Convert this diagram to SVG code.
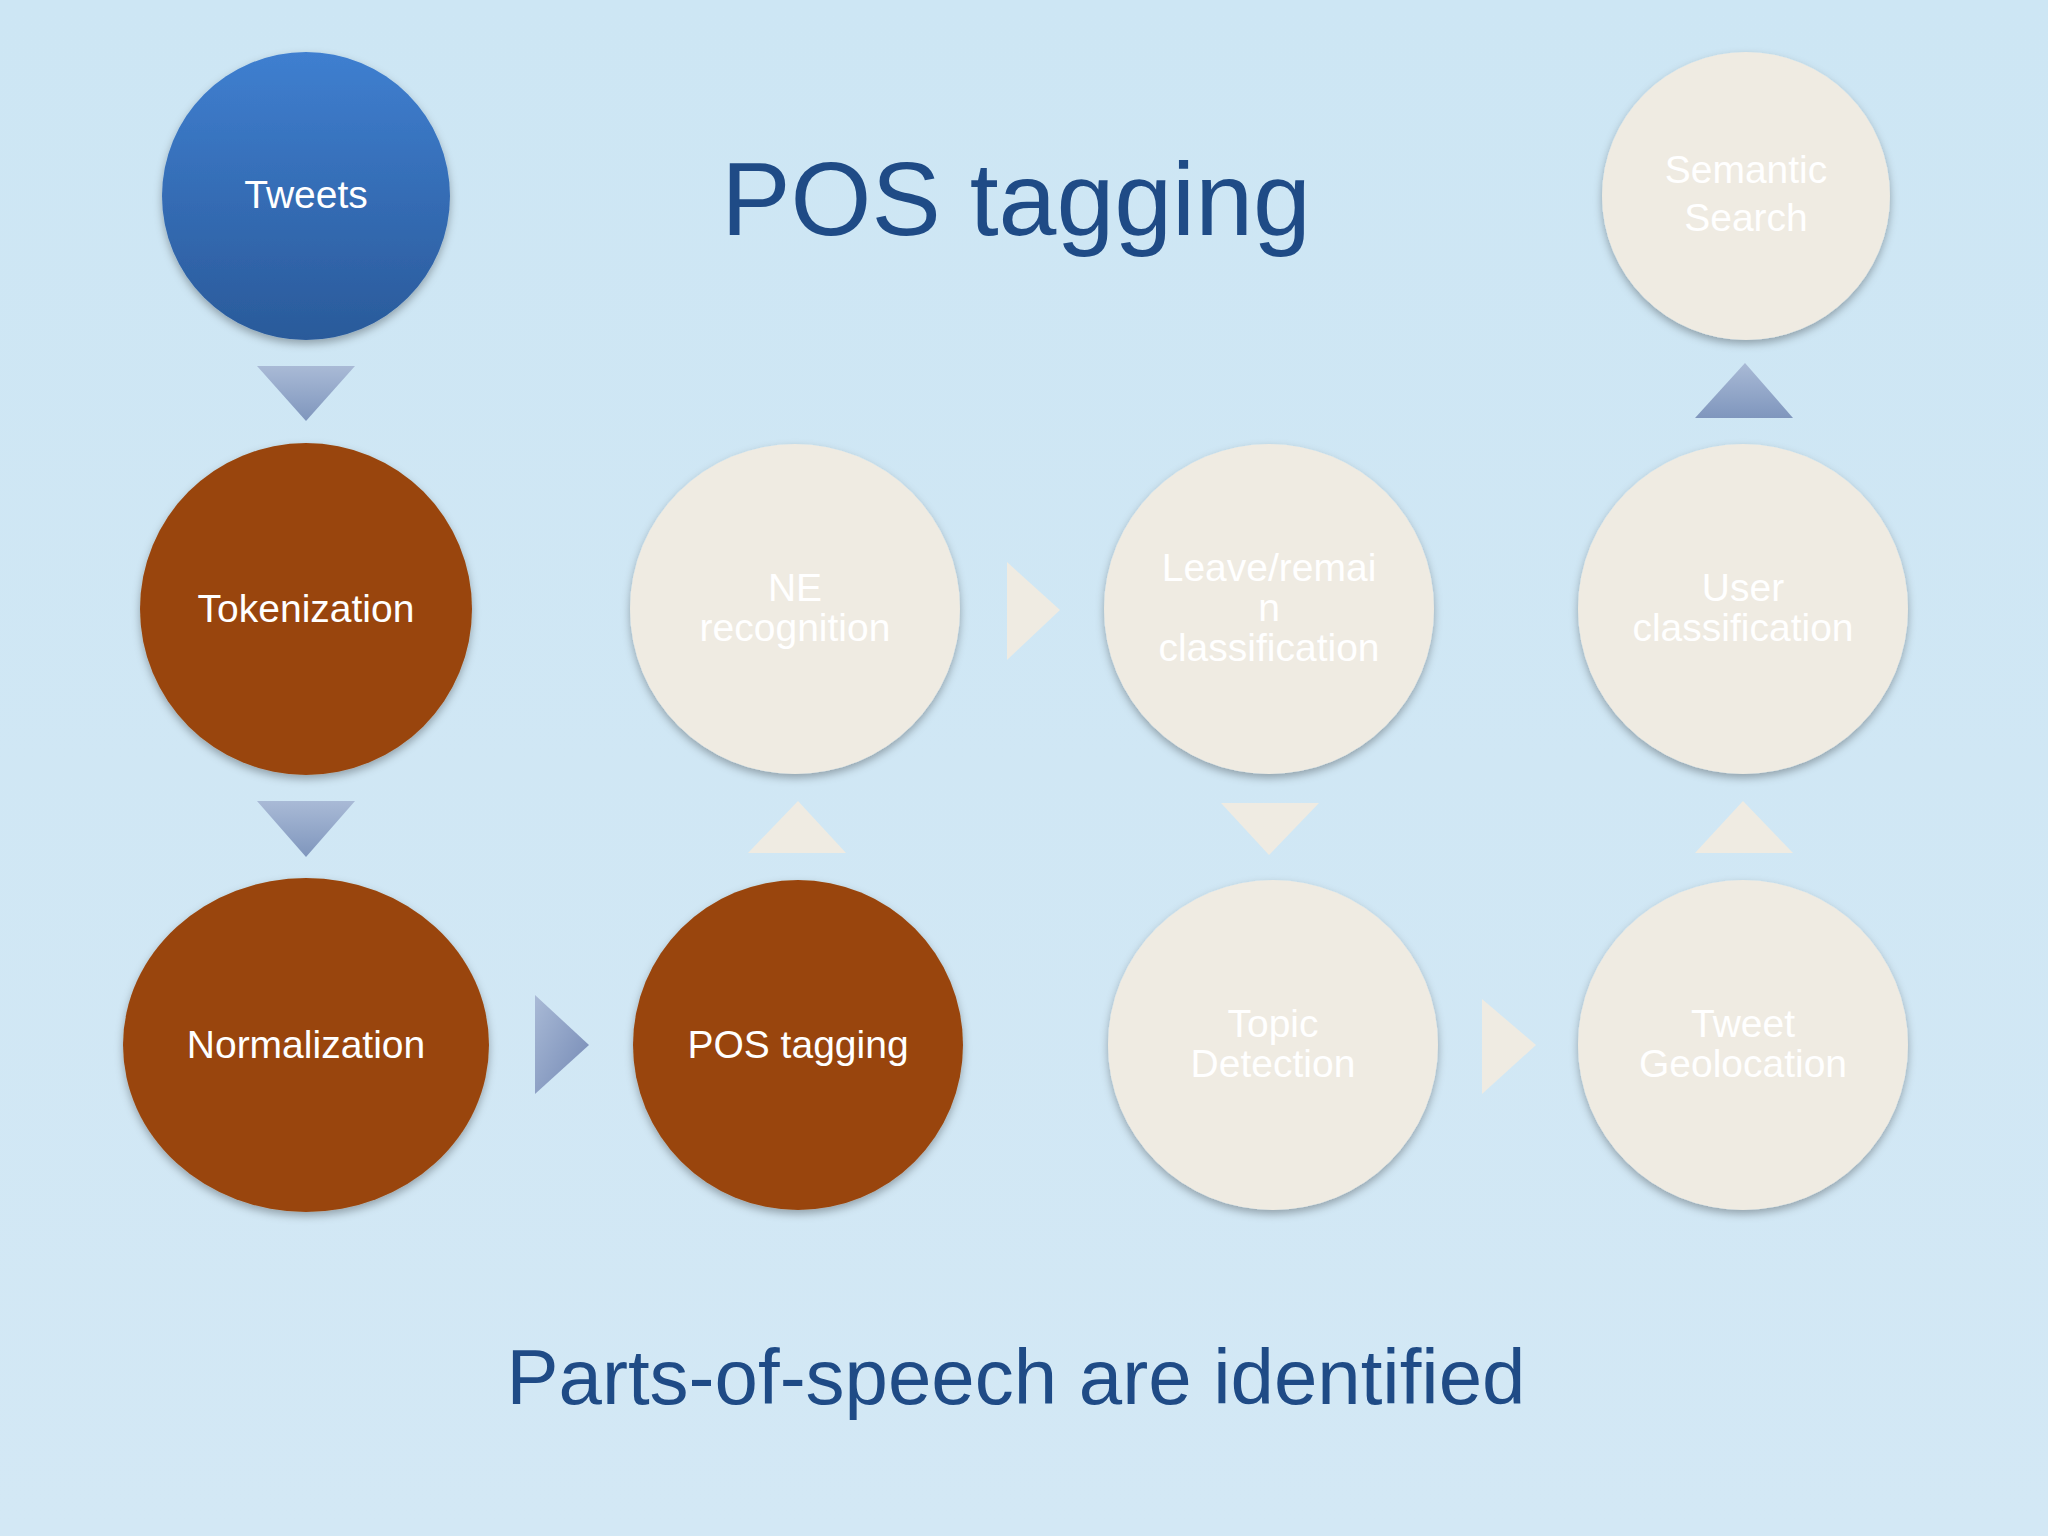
<svg xmlns="http://www.w3.org/2000/svg" width="2048" height="1536" viewBox="0 0 2048 1536">
<defs>
<linearGradient id="bg" x1="0" y1="0" x2="0" y2="1"><stop offset="0" stop-color="#cde6f4"/><stop offset="1" stop-color="#d3e8f5"/></linearGradient>
<linearGradient id="blue" x1="0" y1="0" x2="0" y2="1"><stop offset="0" stop-color="#3f7fd0"/><stop offset="1" stop-color="#2a5a9a"/></linearGradient>
<linearGradient id="arr" x1="0" y1="0" x2="0" y2="1"><stop offset="0" stop-color="#a9bad6"/><stop offset="1" stop-color="#7f96bd"/></linearGradient>
<linearGradient id="arrh" x1="0" y1="0" x2="1" y2="1"><stop offset="0" stop-color="#a9bad6"/><stop offset="1" stop-color="#7388b4"/></linearGradient>
<filter id="sh" x="-20%" y="-20%" width="140%" height="140%"><feDropShadow dx="0" dy="4" stdDeviation="4" flood-color="#000" flood-opacity="0.3"/></filter>
</defs>
<style>
.brown{fill:#99450a;filter:url(#sh)}
.cream{fill:#efebe2;filter:url(#sh)}
.t{font-family:"Liberation Sans",Arial,sans-serif;font-size:39px;fill:#fff;text-anchor:middle}
.ca{fill:#efebe2}
.ba{fill:url(#arr)}
</style>
<rect width="2048" height="1536" fill="url(#bg)"/>
<text x="1016" y="235" font-family="Liberation Sans,Arial,sans-serif" font-size="104" fill="#1f4b86" text-anchor="middle">POS tagging</text>
<text x="1016" y="1404" font-family="Liberation Sans,Arial,sans-serif" font-size="78" fill="#1f4b86" text-anchor="middle">Parts-of-speech are identified</text>
<g id="tweets"><circle cx="306" cy="196" r="144" fill="url(#blue)" filter="url(#sh)"/><text class="t" x="306" y="208">Tweets</text></g>
<g id="semantic"><circle class="cream" cx="1746" cy="196" r="144"/><text class="t" x="1746" y="183">Semantic</text><text class="t" x="1746" y="231">Search</text></g>
<g id="tokenization"><circle class="brown" cx="306" cy="609" r="166"/><text class="t" x="306" y="622">Tokenization</text></g>
<g id="normalization"><ellipse class="brown" cx="306" cy="1045" rx="183" ry="167"/><text class="t" x="306" y="1058">Normalization</text></g>
<g id="postag"><circle class="brown" cx="798" cy="1045" r="165"/><text class="t" x="798" y="1058">POS tagging</text></g>
<g id="ne"><circle class="cream" cx="795" cy="609" r="165"/><text class="t" x="795" y="601">NE</text><text class="t" x="795" y="641">recognition</text></g>
<g id="leave"><circle class="cream" cx="1269" cy="609" r="165"/><text class="t" x="1269" y="581">Leave/remai</text><text class="t" x="1269" y="621">n</text><text class="t" x="1269" y="661">classification</text></g>
<g id="topic"><circle class="cream" cx="1273" cy="1045" r="165"/><text class="t" x="1273" y="1037">Topic</text><text class="t" x="1273" y="1077">Detection</text></g>
<g id="geo"><circle class="cream" cx="1743" cy="1045" r="165"/><text class="t" x="1743" y="1037">Tweet</text><text class="t" x="1743" y="1077">Geolocation</text></g>
<g id="user"><circle class="cream" cx="1743" cy="609" r="165"/><text class="t" x="1743" y="601">User</text><text class="t" x="1743" y="641">classification</text></g>
<g id="connectors">
<polygon class="ba" points="257,366 355,366 306,421"/>
<polygon class="ba" points="257,801 355,801 306,857"/>
<polygon fill="url(#arrh)" points="535,995 535,1094 589,1045"/>
<polygon class="ca" points="748,853 846,853 798,801"/>
<polygon class="ca" points="1007,562 1007,660 1060,610"/>
<polygon class="ca" points="1221,803 1319,803 1269,855"/>
<polygon class="ca" points="1482,999 1482,1094 1536,1045"/>
<polygon class="ca" points="1695,853 1793,853 1743,801"/>
<polygon class="ba" points="1695,418 1793,418 1745,363"/>
</g>
</svg>
